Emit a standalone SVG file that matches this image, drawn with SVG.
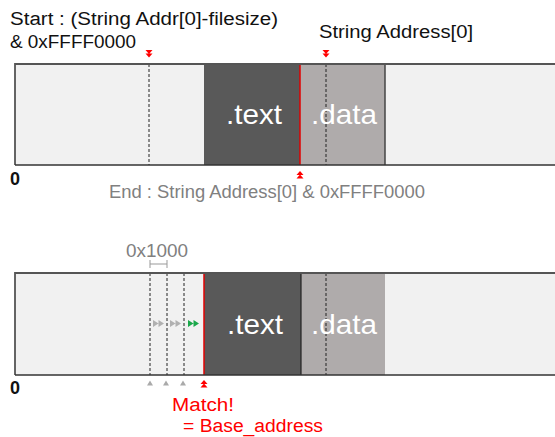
<svg xmlns="http://www.w3.org/2000/svg" width="555" height="437" viewBox="0 0 555 437">
<style>
.lbl{font-family:"Liberation Sans",Arial,sans-serif;font-size:18px;fill:#111}
.gray{fill:#808080}
.red{fill:#ff0000}
.sec{font-family:"Liberation Sans",Arial,sans-serif;font-size:28px;fill:#fff}
.zero{font-family:"Liberation Sans",Arial,sans-serif;font-size:18px;font-weight:bold;fill:#111}
.light{fill:#f1f1f1}
.dark{fill:#595959}
.dgray{fill:#afabab}
.dash{stroke:#222;stroke-width:1;stroke-dasharray:3 2;fill:none}
.edge{stroke:#444;stroke-width:1.5;fill:none}
.redl{stroke:#e00000;stroke-width:1.5;fill:none}
</style>
<defs>
<g id="dn"><path d="M-3.5,0 L3.5,0 L0,4 Z M-3.5,3.5 L3.5,3.5 L0,7.5 Z" fill="#ff0000"/></g>
<g id="up"><path d="M-3.5,7.5 L3.5,7.5 L0,3.5 Z M-3.5,4 L3.5,4 L0,0 Z" fill="#ff0000"/></g>
<g id="ff"><path d="M0,0 L5.5,3.5 L0,7 Z M5.5,0 L11,3.5 L5.5,7 Z"/></g>
</defs>

<g id="top-bar">
<rect x="15" y="64" width="545" height="101" class="light"/>
<rect x="204" y="64" width="96" height="101" class="dark"/>
<rect x="300" y="64" width="85" height="101" class="dgray"/>
<line x1="149" y1="64" x2="149" y2="165" class="dash"/>
<line x1="326" y1="64" x2="326" y2="165" class="dash"/>
<line x1="385" y1="64" x2="385" y2="165" class="edge"/>
<line x1="300" y1="64" x2="300" y2="165" class="redl"/>
<path d="M15,165 L15,64 L555,64" stroke="#555" stroke-width="1.8" fill="none"/>
<line x1="15" y1="165" x2="555" y2="165" stroke="#333" stroke-width="1.5"/>
<text x="226" y="124" class="sec" textLength="56" lengthAdjust="spacingAndGlyphs">.text</text>
<text x="311" y="124" class="sec" textLength="66" lengthAdjust="spacingAndGlyphs">.data</text>
</g>

<g id="top-labels">
<text x="10" y="25" class="lbl" textLength="268" lengthAdjust="spacingAndGlyphs">Start : (String Addr[0]-filesize)</text>
<text x="10" y="48" class="lbl" textLength="126" lengthAdjust="spacingAndGlyphs">&amp; 0xFFFF0000</text>
<text x="319" y="38" class="lbl" textLength="154" lengthAdjust="spacingAndGlyphs">String Address[0]</text>
<text x="10" y="185" class="zero">0</text>
<text x="109" y="198" class="lbl gray" textLength="316" lengthAdjust="spacingAndGlyphs">End : String Address[0] &amp; 0xFFFF0000</text>
</g>

<g id="bottom-bar">
<rect x="15" y="273" width="545" height="102" class="light"/>
<rect x="204" y="273" width="97" height="102" class="dark"/>
<rect x="301" y="273" width="84" height="102" class="dgray"/>
<line x1="150" y1="273" x2="150" y2="375" class="dash"/>
<line x1="167" y1="273" x2="167" y2="375" class="dash"/>
<line x1="184" y1="273" x2="184" y2="375" class="dash"/>
<line x1="326" y1="273" x2="326" y2="375" class="dash"/>
<line x1="301" y1="273" x2="301" y2="375" stroke="#222" stroke-width="1.2"/>
<line x1="204" y1="273" x2="204" y2="375" class="redl"/>
<path d="M15,375 L15,273 L555,273" stroke="#555" stroke-width="1.8" fill="none"/>
<line x1="15" y1="375" x2="555" y2="375" stroke="#333" stroke-width="1.5"/>
<text x="227" y="334" class="sec" textLength="56" lengthAdjust="spacingAndGlyphs">.text</text>
<text x="311" y="334" class="sec" textLength="66" lengthAdjust="spacingAndGlyphs">.data</text>
<use href="#ff" x="153" y="320" fill="#b0b0b0"/>
<use href="#ff" x="170" y="320" fill="#b0b0b0"/>
<use href="#ff" x="188" y="320" fill="#1aa84a"/>
</g>

<g id="bottom-labels">
<text x="126" y="257" class="lbl gray" textLength="62" lengthAdjust="spacingAndGlyphs">0x1000</text>
<path d="M150,260 L150,268 M167,260 L167,268 M150,264 L167,264" stroke="#999" stroke-width="1" fill="none"/>
<text x="10" y="394" class="zero">0</text>
<text x="172" y="411" class="lbl red" textLength="62" lengthAdjust="spacingAndGlyphs">Match!</text>
<text x="183" y="432" class="lbl red" textLength="140" lengthAdjust="spacingAndGlyphs">= Base_address</text>
</g>

<g id="connectors">
<use href="#dn" x="149" y="50"/>
<use href="#dn" x="326" y="50"/>
<use href="#up" x="300" y="171"/>
<use href="#up" x="204" y="380"/>
<path d="M147,385.5 L153,385.5 L150,380.5 Z M163,385.5 L169,385.5 L166,380.5 Z M180,385.5 L186,385.5 L183,380.5 Z" fill="#aaaaaa"/>
</g>
</svg>
